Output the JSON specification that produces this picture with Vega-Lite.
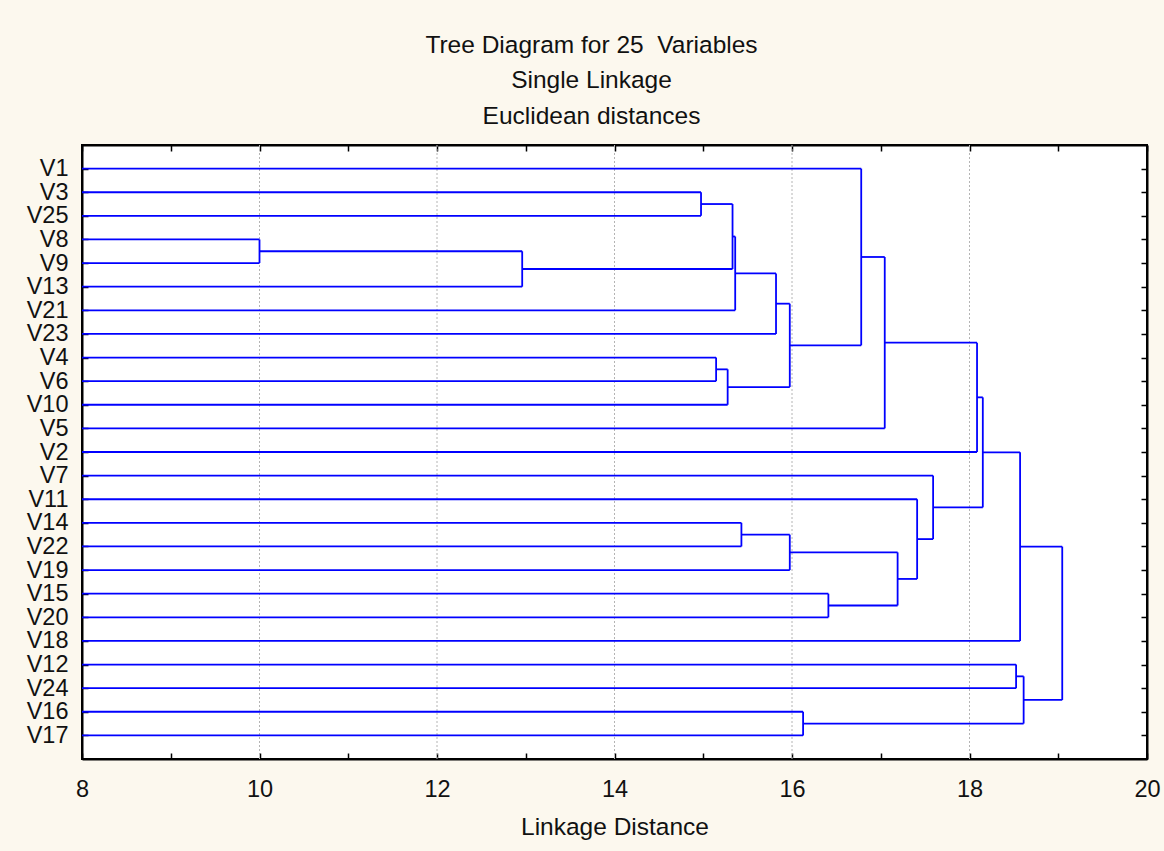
{
  "$schema": "https://vega.github.io/schema/vega-lite/v6.json",
  "width": 1065,
  "height": 614,
  "autosize": "none",
  "padding": {"left": 82, "top": 145, "right": 17, "bottom": 92},
  "background": "#fcf8ee",
  "config": {
    "font": "Liberation Sans",
    "view": {"fill": "white", "stroke": "black", "strokeWidth": 2}
  },
  "title": {
    "text": ["Tree Diagram for 25 \u00a0Variables", "Single Linkage", "Euclidean distances"],
    "font": "Liberation Sans",
    "fontSize": 24.5,
    "fontWeight": "normal",
    "color": "#111111",
    "lineHeight": 35.5,
    "anchor": "middle",
    "dx": -23,
    "offset": 15
  },
  "resolve": {"axis": {"x": "independent", "y": "independent"}},
  "layer": [
    {
      "data": {"values": [{"g": 10}, {"g": 12}, {"g": 14}, {"g": 16}, {"g": 18}]},
      "mark": {"type": "rule", "color": "#b4b4b4", "strokeDash": [2, 2], "strokeWidth": 1},
      "encoding": {
        "x": {"field": "g", "type": "quantitative", "scale": {"domain": [8, 20], "nice": false, "zero": false}, "axis": null}
      }
    },
    {
      "data": {"name": "segments"},
      "mark": {"type": "rule", "color": "#0000ff", "strokeWidth": 1.8},
      "encoding": {
        "x": {
          "field": "x1", "type": "quantitative",
          "scale": {"domain": [8, 20], "nice": false, "zero": false},
          "axis": {
            "orient": "bottom",
            "values": [8, 9, 10, 11, 12, 13, 14, 15, 16, 17, 18, 19, 20],
            "labelExpr": "datum.value % 2 == 0 ? datum.label : ''",
            "grid": false,
            "tickSize": -6, "tickColor": "black", "tickWidth": 1.5,
            "domainColor": "black", "domainWidth": 2,
            "labelPadding": 24, "labelFontSize": 23.5, "labelColor": "#111111",
            "labelFlush": false, "labelOverlap": false, "labelBound": false,
            "title": "Linkage Distance", "titleFontSize": 24.5, "titleFontWeight": "normal",
            "titleColor": "#111111", "titlePadding": 15
          }
        },
        "x2": {"field": "x2"},
        "y": {
          "field": "y1", "type": "quantitative",
          "scale": {"domain": [-1, 25], "reverse": true, "nice": false, "zero": false},
          "axis": {
            "orient": "left",
            "values": [0, 1, 2, 3, 4, 5, 6, 7, 8, 9, 10, 11, 12, 13, 14, 15, 16, 17, 18, 19, 20, 21, 22, 23, 24],
            "labelExpr": "['V1','V3','V25','V8','V9','V13','V21','V23','V4','V6','V10','V5','V2','V7','V11','V14','V22','V19','V15','V20','V18','V12','V24','V16','V17'][datum.value]",
            "grid": false,
            "tickSize": -6, "tickColor": "black", "tickWidth": 1.5,
            "domainColor": "black", "domainWidth": 2,
            "labelPadding": 20, "labelFontSize": 23.5, "labelColor": "#111111",
            "labelBaseline": "middle", "labelOverlap": false, "labelBound": false, "labelFlush": false,
            "title": null
          }
        },
        "y2": {"field": "y2"}
      }
    },
    {
      "data": {"name": "segments"},
      "mark": {"type": "rule", "color": "#0000ff", "strokeOpacity": 0},
      "encoding": {
        "x": {
          "field": "x1", "type": "quantitative",
          "scale": {"domain": [8, 20], "nice": false, "zero": false},
          "axis": {
            "orient": "top",
            "values": [8, 9, 10, 11, 12, 13, 14, 15, 16, 17, 18, 19, 20],
            "labels": false, "grid": false,
            "tickSize": -6, "tickColor": "black", "tickWidth": 1.5,
            "domainColor": "black", "domainWidth": 2,
            "title": null
          }
        },
        "x2": {"field": "x2"},
        "y": {
          "field": "y1", "type": "quantitative",
          "scale": {"domain": [-1, 25], "reverse": true, "nice": false, "zero": false},
          "axis": {
            "orient": "right",
            "values": [0, 1, 2, 3, 4, 5, 6, 7, 8, 9, 10, 11, 12, 13, 14, 15, 16, 17, 18, 19, 20, 21, 22, 23, 24],
            "labels": false, "grid": false,
            "tickSize": -6, "tickColor": "black", "tickWidth": 1.5,
            "domainColor": "black", "domainWidth": 2,
            "title": null
          }
        },
        "y2": {"field": "y2"}
      }
    }
  ],
  "datasets": {
    "segments": [
      {"x1": 8, "x2": 16.78, "y1": 0, "y2": 0},
      {"x1": 8, "x2": 14.975, "y1": 1, "y2": 1},
      {"x1": 8, "x2": 14.975, "y1": 2, "y2": 2},
      {"x1": 8, "x2": 10.0, "y1": 3, "y2": 3},
      {"x1": 8, "x2": 10.0, "y1": 4, "y2": 4},
      {"x1": 8, "x2": 12.96, "y1": 5, "y2": 5},
      {"x1": 8, "x2": 15.36, "y1": 6, "y2": 6},
      {"x1": 8, "x2": 15.82, "y1": 7, "y2": 7},
      {"x1": 8, "x2": 15.145, "y1": 8, "y2": 8},
      {"x1": 8, "x2": 15.145, "y1": 9, "y2": 9},
      {"x1": 8, "x2": 15.275, "y1": 10, "y2": 10},
      {"x1": 8, "x2": 17.045, "y1": 11, "y2": 11},
      {"x1": 8, "x2": 18.085, "y1": 12, "y2": 12},
      {"x1": 8, "x2": 17.59, "y1": 13, "y2": 13},
      {"x1": 8, "x2": 17.41, "y1": 14, "y2": 14},
      {"x1": 8, "x2": 15.43, "y1": 15, "y2": 15},
      {"x1": 8, "x2": 15.43, "y1": 16, "y2": 16},
      {"x1": 8, "x2": 15.975, "y1": 17, "y2": 17},
      {"x1": 8, "x2": 16.41, "y1": 18, "y2": 18},
      {"x1": 8, "x2": 16.41, "y1": 19, "y2": 19},
      {"x1": 8, "x2": 18.57, "y1": 20, "y2": 20},
      {"x1": 8, "x2": 18.525, "y1": 21, "y2": 21},
      {"x1": 8, "x2": 18.525, "y1": 22, "y2": 22},
      {"x1": 8, "x2": 16.125, "y1": 23, "y2": 23},
      {"x1": 8, "x2": 16.125, "y1": 24, "y2": 24},

      {"x1": 10.0, "x2": 12.96, "y1": 3.5, "y2": 3.5},
      {"x1": 12.96, "x2": 15.33, "y1": 4.25, "y2": 4.25},
      {"x1": 14.975, "x2": 15.33, "y1": 1.5, "y2": 1.5},
      {"x1": 15.33, "x2": 15.36, "y1": 2.875, "y2": 2.875},
      {"x1": 15.36, "x2": 15.82, "y1": 4.4375, "y2": 4.4375},
      {"x1": 15.82, "x2": 15.975, "y1": 5.719, "y2": 5.719},
      {"x1": 15.145, "x2": 15.275, "y1": 8.5, "y2": 8.5},
      {"x1": 15.275, "x2": 15.975, "y1": 9.25, "y2": 9.25},
      {"x1": 15.975, "x2": 16.78, "y1": 7.484, "y2": 7.484},
      {"x1": 16.78, "x2": 17.045, "y1": 3.742, "y2": 3.742},
      {"x1": 17.045, "x2": 18.085, "y1": 7.371, "y2": 7.371},
      {"x1": 18.085, "x2": 18.15, "y1": 9.686, "y2": 9.686},
      {"x1": 15.43, "x2": 15.975, "y1": 15.5, "y2": 15.5},
      {"x1": 15.975, "x2": 17.19, "y1": 16.25, "y2": 16.25},
      {"x1": 16.41, "x2": 17.19, "y1": 18.5, "y2": 18.5},
      {"x1": 17.19, "x2": 17.41, "y1": 17.375, "y2": 17.375},
      {"x1": 17.41, "x2": 17.59, "y1": 15.688, "y2": 15.688},
      {"x1": 17.59, "x2": 18.15, "y1": 14.344, "y2": 14.344},
      {"x1": 18.15, "x2": 18.57, "y1": 12.015, "y2": 12.015},
      {"x1": 18.57, "x2": 19.045, "y1": 16.007, "y2": 16.007},
      {"x1": 18.525, "x2": 18.61, "y1": 21.5, "y2": 21.5},
      {"x1": 16.125, "x2": 18.61, "y1": 23.5, "y2": 23.5},
      {"x1": 18.61, "x2": 19.045, "y1": 22.5, "y2": 22.5},

      {"x1": 10.0, "x2": 10.0, "y1": 3, "y2": 4},
      {"x1": 12.96, "x2": 12.96, "y1": 3.5, "y2": 5},
      {"x1": 14.975, "x2": 14.975, "y1": 1, "y2": 2},
      {"x1": 15.33, "x2": 15.33, "y1": 1.5, "y2": 4.25},
      {"x1": 15.36, "x2": 15.36, "y1": 2.875, "y2": 6},
      {"x1": 15.82, "x2": 15.82, "y1": 4.4375, "y2": 7},
      {"x1": 15.145, "x2": 15.145, "y1": 8, "y2": 9},
      {"x1": 15.275, "x2": 15.275, "y1": 8.5, "y2": 10},
      {"x1": 15.975, "x2": 15.975, "y1": 5.719, "y2": 9.25},
      {"x1": 16.78, "x2": 16.78, "y1": 0, "y2": 7.484},
      {"x1": 17.045, "x2": 17.045, "y1": 3.742, "y2": 11},
      {"x1": 18.085, "x2": 18.085, "y1": 7.371, "y2": 12},
      {"x1": 15.43, "x2": 15.43, "y1": 15, "y2": 16},
      {"x1": 15.975, "x2": 15.975, "y1": 15.5, "y2": 17},
      {"x1": 16.41, "x2": 16.41, "y1": 18, "y2": 19},
      {"x1": 17.19, "x2": 17.19, "y1": 16.25, "y2": 18.5},
      {"x1": 17.41, "x2": 17.41, "y1": 14, "y2": 17.375},
      {"x1": 17.59, "x2": 17.59, "y1": 13, "y2": 15.688},
      {"x1": 18.15, "x2": 18.15, "y1": 9.686, "y2": 14.344},
      {"x1": 18.57, "x2": 18.57, "y1": 12.015, "y2": 20},
      {"x1": 18.525, "x2": 18.525, "y1": 21, "y2": 22},
      {"x1": 16.125, "x2": 16.125, "y1": 23, "y2": 24},
      {"x1": 18.61, "x2": 18.61, "y1": 21.5, "y2": 23.5},
      {"x1": 19.045, "x2": 19.045, "y1": 16.007, "y2": 22.5}
    ]
  }
}
